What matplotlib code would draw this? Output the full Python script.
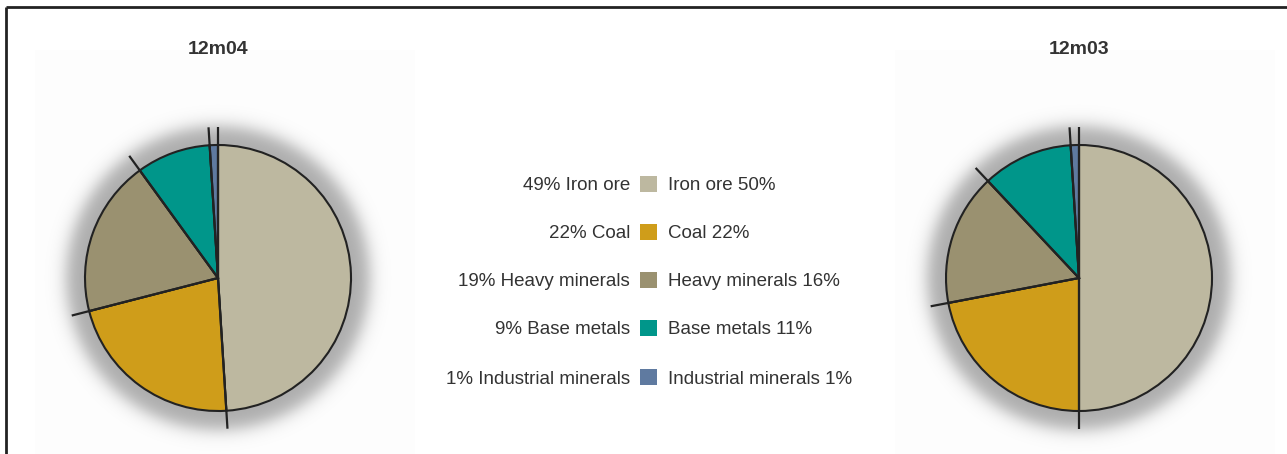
import numpy as np
import matplotlib
matplotlib.use("Agg")
import matplotlib.pyplot as plt
from matplotlib.patches import Rectangle

# Commodity mix for the two periods
categories = ["Iron ore", "Coal", "Heavy minerals", "Base metals", "Industrial minerals"]
share_12m04 = [49, 22, 19, 9, 1]
share_12m03 = [50, 22, 16, 11, 1]
colors = ["#bdb8a0", "#cf9d1a", "#9a9170", "#00968a", "#5f7aa0"]

W, H = 1287, 454
plt.rcParams["font.family"] = ["Liberation Sans", "DejaVu Sans"]
txt = "#333333"

fig = plt.figure(figsize=(W / 100, H / 100), dpi=100)
ax = fig.add_axes([0, 0, 1, 1])

R = 133


def draw_pie(cx, cy, values, title, panel):
    # faint panel behind the pie
    ax.add_patch(Rectangle((panel[0], 0), panel[1] - panel[0], H - 50,
                           facecolor="#fdfdfd", edgecolor="none", zorder=0))
    # soft halo around the pie
    n = 400
    ext = R + 60
    xs = np.linspace(-ext, ext, n)
    xx, yy = np.meshgrid(xs, xs)
    d = np.hypot(xx, yy)
    alpha = 0.32 / (1 + np.exp((d - R - 19) / 5.0))
    img = np.zeros((n, n, 4))
    img[..., 3] = alpha
    ax.imshow(img, extent=(cx - ext, cx + ext, cy - ext, cy + ext),
              origin="lower", zorder=1, interpolation="bilinear")

    ax.pie(values, colors=colors, startangle=90, counterclock=False,
           center=(cx, cy), radius=R, frame=True,
           wedgeprops=dict(edgecolor="#222222", linewidth=1.5, zorder=2))
    # radial dividers that run past the rim
    ang = 90.0
    for v in values:
        a = np.deg2rad(ang)
        ax.plot([cx, cx + (R + 18) * np.cos(a)], [cy, cy + (R + 18) * np.sin(a)],
                color="#222222", lw=1.6, zorder=3, solid_capstyle="butt")
        ang -= v * 3.6
    ax.text(cx, H - 50, title, ha="center", va="center", fontsize=14,
            fontweight="bold", color=txt)


draw_pie(218, H - 278, share_12m04, "12m04", (35, 415))
draw_pie(1079, H - 278, share_12m03, "12m03", (895, 1275))
ax.set_xlim(0, W)
ax.set_ylim(0, H)
ax.set_aspect("equal")
ax.axis("off")

# shared legend with both periods' values
rows_y = [184, 232, 280, 328, 377]
for name, v04, v03, c, y in zip(categories, share_12m04, share_12m03, colors, rows_y):
    yy = H - y
    ax.add_patch(Rectangle((640, yy - 8), 17, 16, facecolor=c, edgecolor="none", zorder=3))
    ax.text(630, yy - 2, f"{v04}% {name}", ha="right", va="center", fontsize=13.5, color=txt)
    ax.text(668, yy - 2, f"{name} {v03}%", ha="left", va="center", fontsize=13.5, color=txt)

# frame lines on the top and left
ax.plot([6, W], [H - 7, H - 7], color="#222222", lw=2, zorder=5, solid_capstyle="butt")
ax.plot([6, 6], [H - 7, 0], color="#222222", lw=2, zorder=5, solid_capstyle="butt")

fig.savefig("out.png", dpi=100, facecolor="white")
